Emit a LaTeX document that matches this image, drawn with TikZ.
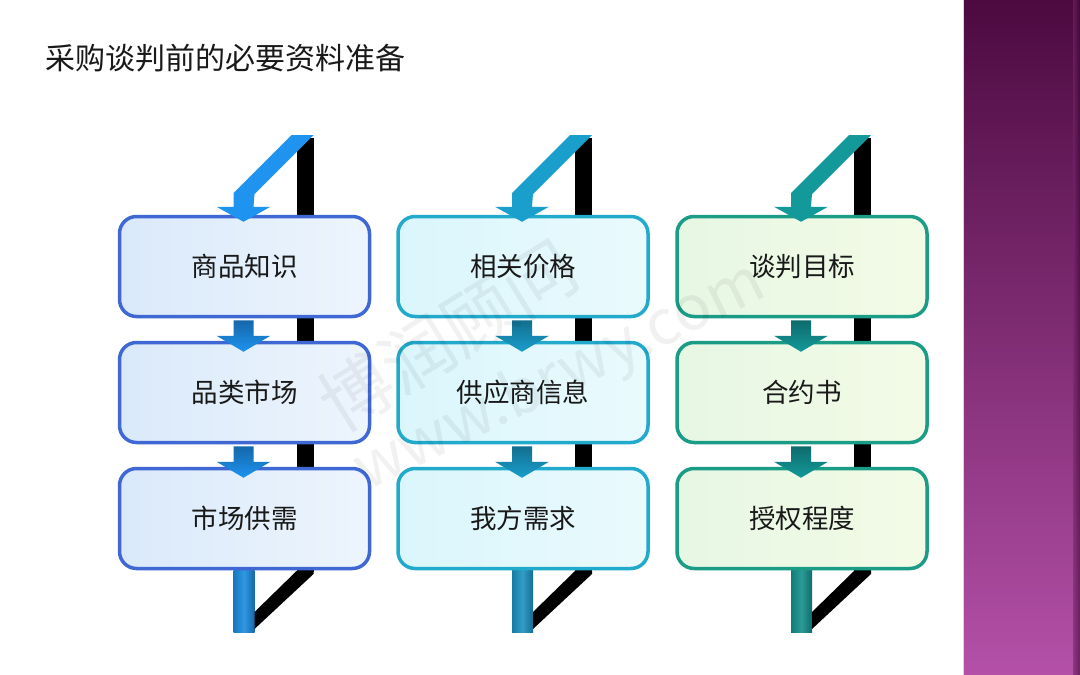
\documentclass[tikz,border=0pt]{standalone}
\usepackage{fontspec}
\setmainfont{Noto Sans CJK SC}
\usetikzlibrary{calc}
\definecolor{pTop}{HTML}{4C0A40}
\definecolor{pBot}{HTML}{B450A8}
\definecolor{bA}{HTML}{3F68D4}
\definecolor{bB}{HTML}{22AACC}
\definecolor{bC}{HTML}{1A9C86}
\definecolor{fA1}{HTML}{DAE9FA}
\definecolor{fA2}{HTML}{EDF5FD}
\definecolor{fB1}{HTML}{DAF6FC}
\definecolor{fB2}{HTML}{EAFAFD}
\definecolor{fC1}{HTML}{E6F7E4}
\definecolor{fC2}{HTML}{F3FBE6}
\definecolor{aA}{HTML}{1E93F0}
\definecolor{aB}{HTML}{1A9ECC}
\definecolor{aC}{HTML}{14999A}
\definecolor{rA}{HTML}{1A8CE0}
\definecolor{rB}{HTML}{1A92C0}
\definecolor{rC}{HTML}{14908C}
\tikzset{
  stagebox/.style={rounded corners=17pt, line width=3.5pt, minimum width=250pt,
    minimum height=100pt, inner sep=0pt, text=black!90,
    font=\fontsize{26.5}{26.5}\selectfont},
  titletext/.style={font=\fontsize{30}{30}\selectfont, text=black!90, anchor=west},
  wmark/.style={text=black, opacity=0.055, inner sep=0pt},
}
% #1 center x, #2 prefix, #3 border, #4 fill left, #5 fill right, #6 arrow, #7 bar, #8-#9 texts
\newcommand{\stagecol}[9]{%
  \fill[black] ({#1+52},138) rectangle ({#1+69},572);
  \shade[left color=#7!85!black, right color=#7!75!black, middle color=#7!90!white]
    ({#1-11},570) rectangle ({#1+10},632);
  \fill[black] ({#1+52},571) -- ({#1+69},571) -- ({#1+69},574) -- ({#1+10},629) -- ({#1+10},612) -- cycle;
  \node[stagebox, draw=#3, left color=#4, right color=#5] (#21) at (#1,266.5) {#8};
  \node[stagebox, draw=#3, left color=#4, right color=#5] (#22) at (#1,392.5) {#9};
  \node[stagebox, draw=#3, left color=#4, right color=#5] (#23) at (#1,518.5) {\stagethird};
}
\newcommand{\toparrow}[3]{%
  \fill[#3] ({#1+47},135) -- ({#1+69},135) -- ({#1+10},194) -- ([xshift=9pt,yshift=8pt]#2.north)
    -- ([xshift=26pt,yshift=8pt]#2.north) -- ([xshift=-1pt,yshift=-7pt]#2.north)
    -- ([xshift=-28pt,yshift=8pt]#2.north) -- ([xshift=-11pt,yshift=8pt]#2.north)
    -- ({#1-11},193) -- cycle;
}
\newcommand{\midarrow}[3]{%
  \shade[top color=#3!70!black, bottom color=#3]
    ([xshift=-11pt,yshift=-2pt]#1.south) -- ([xshift=9pt,yshift=-2pt]#1.south)
    -- ([xshift=9pt,yshift=5pt]#2.north) -- ([xshift=26pt,yshift=5pt]#2.north)
    -- ([xshift=-1pt,yshift=-11pt]#2.north) -- ([xshift=-28pt,yshift=5pt]#2.north)
    -- ([xshift=-11pt,yshift=5pt]#2.north) -- cycle;
}
\begin{document}
\begin{tikzpicture}[x=1pt,y=-1pt]
\useasboundingbox (0,0) rectangle (1080,675);
\fill[white] (0,0) rectangle (1080,675);
\shade[top color=pTop, bottom color=pBot] (963,0) rectangle (1080,675);
\shade[left color=pBot!40!pTop, right color=pTop!70!black, opacity=0.6] (1073,0) rectangle (1080,675);
\draw[white!70!pBot, line width=0.8pt] (963.4,0) -- (963.4,675);
\node[titletext] (title) at (42,58) {采购谈判前的必要资料准备};
\def\stagethird{市场供需}
\stagecol{244.5}{a}{bA}{fA1}{fA2}{aA}{rA}{商品知识}{品类市场}
\def\stagethird{我方需求}
\stagecol{523}{b}{bB}{fB1}{fB2}{aB}{rB}{相关价格}{供应商信息}
\def\stagethird{授权程度}
\stagecol{802}{c}{bC}{fC1}{fC2}{aC}{rC}{谈判目标}{合约书}
\toparrow{244.5}{a1}{aA}
\toparrow{523}{b1}{aB}
\toparrow{802}{c1}{aC}
\midarrow{a1}{a2}{aA}
\midarrow{a2}{a3}{aA}
\midarrow{b1}{b2}{aB}
\midarrow{b2}{b3}{aB}
\midarrow{c1}{c2}{aC}
\midarrow{c2}{c3}{aC}
\node[wmark, rotate=32, font=\fontsize{72}{72}\selectfont] (wm1) at (448,335) {博润顾问};
\node[wmark, rotate=26, font=\fontsize{62}{62}\selectfont] (wm2) at (560,378) {www.brwy.com};
\end{tikzpicture}
\end{document}
